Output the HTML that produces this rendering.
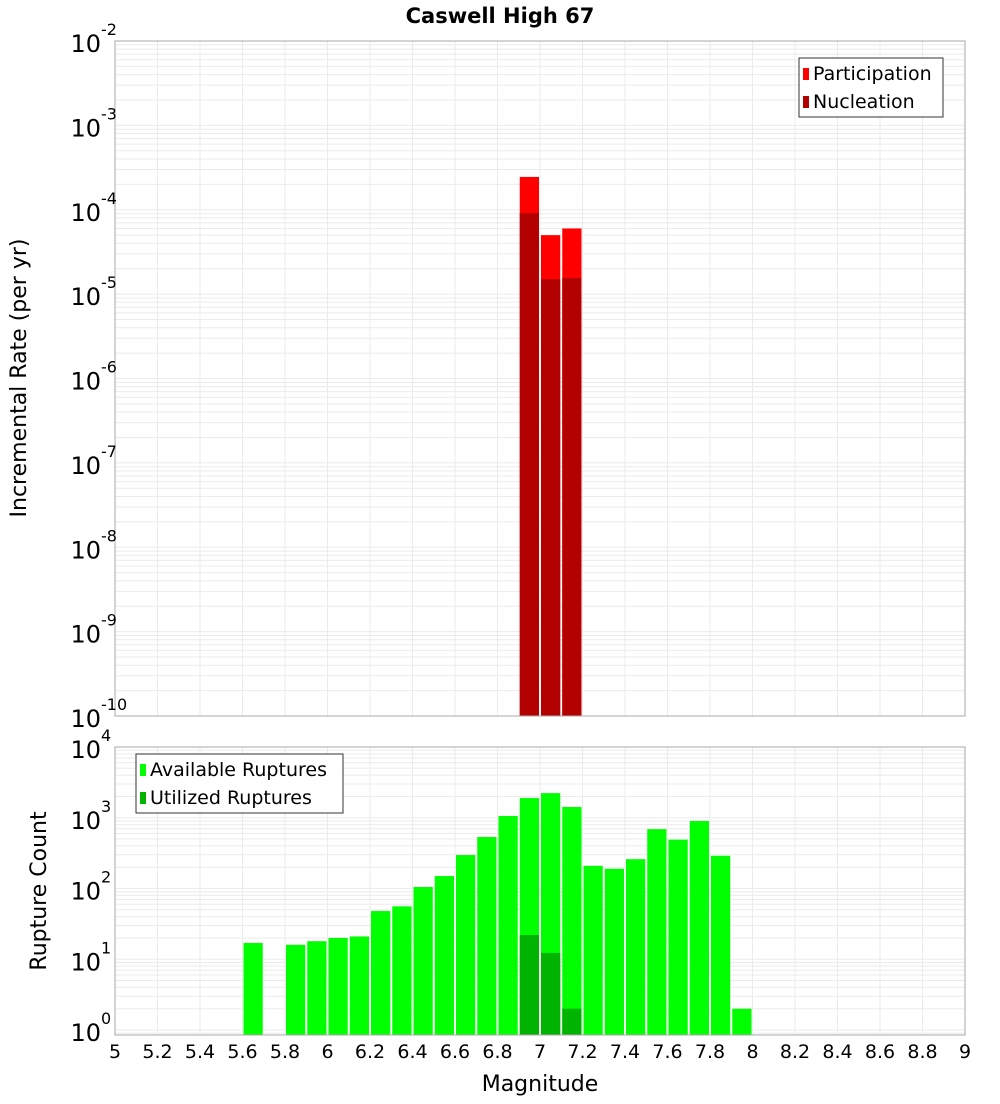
<!DOCTYPE html>
<html><head><meta charset="utf-8"><style>
body{margin:0;background:#fff;font-family:"DejaVu Sans","Liberation Sans",sans-serif;}
svg text{font-family:"DejaVu Sans","Liberation Sans",sans-serif;}
</style></head><body>
<svg id="c" width="1000" height="1100" xmlns="http://www.w3.org/2000/svg"></svg>
<script>
const binStarts = [6.9, 7.0, 7.1];
const participation = [2.45e-4, 5.0e-5, 6.0e-5];
const nucleation = [9.1e-5, 1.5e-5, 1.55e-5];
const availStarts = [5.6,5.8,5.9,6.0,6.1,6.2,6.3,6.4,6.5,6.6,6.7,6.8,6.9,7.0,7.1,7.2,7.3,7.4,7.5,7.6,7.7,7.8,7.9];
const available = [17,16,18,20,21,48,56,105,150,297,535,1060,1900,2230,1420,209,190,260,690,490,900,290,2];
const utilStarts = [6.9,7.0,7.1];
const utilized = [22,12.3,2];
const xTicks = [5,5.2,5.4,5.6,5.8,6,6.2,6.4,6.6,6.8,7,7.2,7.4,7.6,7.8,8,8.2,8.4,8.6,8.8,9];
const topExps = [-2,-3,-4,-5,-6,-7,-8,-9,-10];
const botExps = [4,3,2,1,0];

const svg=document.getElementById('c');
const NS='http://www.w3.org/2000/svg';
function mk(tag,attrs,parent){const e=document.createElementNS(NS,tag);for(const k in attrs)e.setAttribute(k,attrs[k]);(parent||svg).appendChild(e);return e;}
const X0=115,X1=965;
const x=v=>X0+(v-5)/4*(X1-X0);
const T0=41,T1=716;
const yTop=v=>T0+(-2-Math.log10(v))/8*(T1-T0);
const B0=747,B1=1035,BMIN=Math.log10(0.85);
const yBot=v=>B0+(4-Math.log10(v))/(4-BMIN)*(B1-B0);

// title
let t=mk('text',{x:500,y:23,'text-anchor':'middle','font-size':21,'font-weight':'bold'});
t.textContent='Caswell High 67';



function grid(y0,y1,yf,expHi,expLo,name){
  const g=mk('g',{});
  
  
  for(let e=expLo;e<expHi;e++){for(let m=1;m<10;m++){const yy=yf(m*Math.pow(10,e));if(yy>=y0&&yy<=y1)mk('line',{x1:X0,x2:X1,y1:yy,y2:yy,stroke:'#ebebeb','stroke-width':1},g);}}
  for(let v=5;v<=9.001;v+=0.2){mk('line',{x1:x(v),x2:x(v),y1:y0,y2:y1,stroke:'#ebebeb','stroke-width':1},g);}
}
grid(T0,T1,yTop,-2,-10,'top-grid');
grid(B0,B1,yBot,4,-1,'bottom-grid');

// top bars
binStarts.forEach((s,i)=>{
  const r=mk('rect',{x:x(s)+1,y:yTop(participation[i]),width:x(s+0.1)-x(s)-2,height:T1-yTop(participation[i]),fill:'#ff0000'});
  
  
  const n=mk('rect',{x:x(s)+1,y:yTop(nucleation[i]),width:x(s+0.1)-x(s)-2,height:T1-yTop(nucleation[i]),fill:'#b30000'});
  
  
});
availStarts.forEach((s,i)=>{
  const r=mk('rect',{x:x(s)+1,y:yBot(available[i]),width:x(s+0.1)-x(s)-2,height:B1-yBot(available[i]),fill:'#00ff00'});
  
  
});
utilStarts.forEach((s,i)=>{
  const r=mk('rect',{x:x(s)+1,y:yBot(utilized[i]),width:x(s+0.1)-x(s)-2,height:B1-yBot(utilized[i]),fill:'#00b300'});
  
  
});

// frames
let f1=mk('rect',{x:X0,y:T0,width:X1-X0,height:T1-T0,fill:'none',stroke:'#aaa'});


let f2=mk('rect',{x:X0,y:B0,width:X1-X0,height:B1-B0,fill:'none',stroke:'#aaa'});



// y tick labels
function ylab(yy,e,name){
  const tx=mk('text',{x:101,y:yy+11,'text-anchor':'end','font-size':24});
  tx.textContent='10';
  
  
  const sp=mk('text',{x:101,y:yy-6,'text-anchor':'start','font-size':16});
  sp.textContent=String(e);
  
  
}
topExps.forEach(e=>ylab(yTop(Math.pow(10,e)),e,'top-y-tick-label'));
botExps.forEach(e=>ylab(yBot(Math.pow(10,e)),e,'bottom-y-tick-label'));

xTicks.forEach(v=>{
  const tx=mk('text',{x:x(v),y:1058,'text-anchor':'middle','font-size':19});
  tx.textContent=String(v);
  
  
});
let xl=mk('text',{x:540,y:1091,'text-anchor':'middle','font-size':22});
xl.textContent='Magnitude';


let yl=mk('text',{x:0,y:0,'text-anchor':'middle','font-size':22,transform:'translate(26,378) rotate(-90)'});
yl.textContent='Incremental Rate (per yr)';


let yl2=mk('text',{x:0,y:0,'text-anchor':'middle','font-size':22,transform:'translate(46,891) rotate(-90)'});
yl2.textContent='Rupture Count';



function legend(bx,by,w,h,items,name){
  const g=mk('g',{});
  
  
  mk('rect',{x:bx,y:by,width:w,height:h,fill:'#fff',stroke:'#333','stroke-width':1},g);
  items.forEach((it,i)=>{
    mk('rect',{x:bx+4,y:by+10+i*28,width:6,height:12,fill:it[1]},g);
    const tx=mk('text',{x:bx+14,y:by+22+i*28,'font-size':19},g);
    tx.textContent=it[0];
    
    
  });
}
legend(799,58,144,59,[['Participation','#ff0000'],['Nucleation','#b30000']],'top-legend');
legend(136,754,207,59,[['Available Ruptures','#00ff00'],['Utilized Ruptures','#00b300']],'bottom-legend');
</script>
</body></html>
